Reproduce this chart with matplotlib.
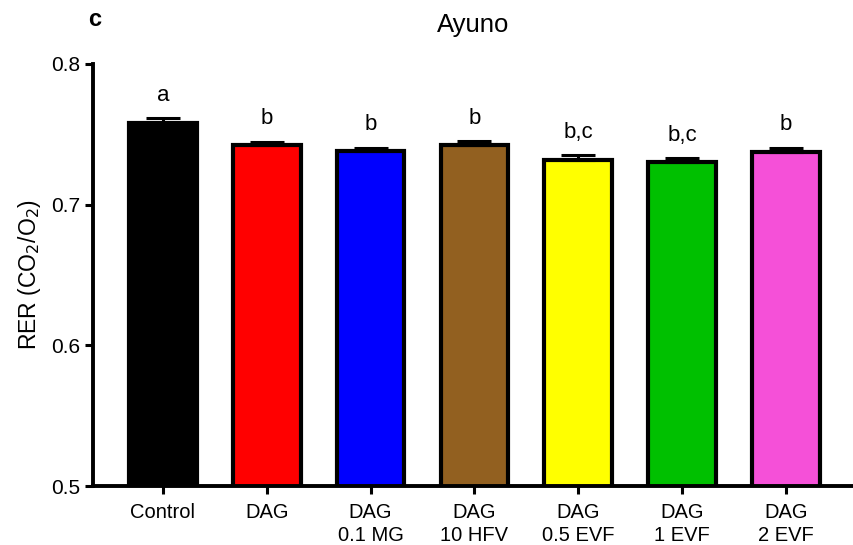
import matplotlib
matplotlib.use("Agg")
import matplotlib.pyplot as plt

plt.rcParams['font.family'] = ['Liberation Sans', 'DejaVu Sans']

groups = ["Control", "DAG", "DAG\n0.1 MG", "DAG\n10 HFV", "DAG\n0.5 EVF", "DAG\n1 EVF", "DAG\n2 EVF"]
rer_mean = [0.758, 0.742, 0.738, 0.742, 0.732, 0.730, 0.737]
rer_sem = [0.0033, 0.0027, 0.0025, 0.003, 0.003, 0.003, 0.0033]
letters = ["a", "b", "b", "b", "b,c", "b,c", "b"]
colors = ["#000000", "#FF0000", "#0000FF", "#926020", "#FFFF00", "#00C000", "#F550D8"]

fig = plt.figure(figsize=(8.54, 5.45), dpi=100)
ax = fig.add_axes([0.109, 0.108, 0.889, 0.775])

x = list(range(len(groups)))
ax.bar(x, rer_mean, width=0.65, color=colors, edgecolor="black", linewidth=3, zorder=2)
# upper error bars only, drawn on top of the bar outline
ax.errorbar(x, rer_mean, yerr=[[0] * len(x), rer_sem], fmt="none", ecolor="black",
            elinewidth=2.2, capsize=12, capthick=2.2, zorder=3)

for xi, m, s, lab in zip(x, rer_mean, rer_sem, letters):
    ax.annotate(lab, (xi, m + s), xytext=(0, 9), textcoords="offset points",
                ha="center", va="bottom", fontsize=16)

ax.set_ylim(0.5, 0.8)
ax.set_xlim(-0.673, 6.64)
ax.set_yticks([0.5, 0.6, 0.7, 0.8])
ax.set_yticklabels(["0.5", "0.6", "0.7", "0.8"])
ax.set_xticks(x)
ax.set_xticklabels(groups, fontsize=14.5, linespacing=1.25)
ax.tick_params(axis="y", labelsize=15, width=2.2, length=6, pad=3)
ax.tick_params(axis="x", width=2.2, length=6, pad=6)
ax.spines["top"].set_visible(False)
ax.spines["right"].set_visible(False)
ax.spines["left"].set_linewidth(2.8)
ax.spines["bottom"].set_linewidth(2.8)

ax.set_ylabel("RER (CO$_2$/O$_2$)", fontsize=16.5, labelpad=6)
ax.set_title("Ayuno", fontsize=18.5, pad=23)
fig.text(0.103, 0.965, "c", fontsize=17, fontweight="bold", ha="left", va="center")

fig.savefig("out.png", dpi=100)
